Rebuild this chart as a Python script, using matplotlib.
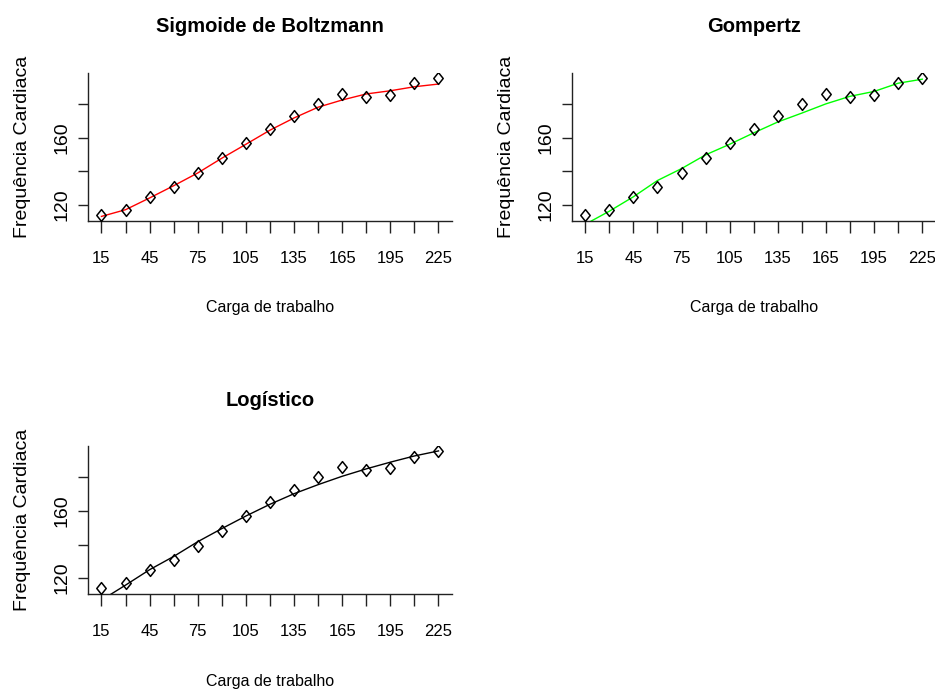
import matplotlib
matplotlib.use("Agg")
import matplotlib.pyplot as plt
from matplotlib.path import Path

# carga de trabalho (W) e frequencia cardiaca observada (bpm)
carga = [15, 30, 45, 60, 75, 90, 105, 120, 135, 150, 165, 180, 195, 210, 225]
fc_obs = [113.8, 116.9, 124.8, 130.8, 138.9, 148.1, 157.1, 165.5,
          172.8, 180.0, 186.3, 184.4, 185.4, 192.4, 195.5]

fc_boltzmann = [113.1, 117.1, 124.1, 131.4, 139.0, 147.8, 156.1, 164.5,
                171.8, 178.2, 182.5, 186.1, 188.0, 190.4, 192.0]
fc_gompertz = [108.4, 116.2, 124.8, 134.5, 141.6, 149.8, 156.1, 162.9,
               169.4, 174.7, 180.2, 184.7, 187.6, 192.5, 194.9]
fc_logistico = [106.9, 115.8, 125.0, 132.9, 141.7, 149.5, 157.0, 164.0,
                170.3, 175.7, 180.7, 185.1, 189.1, 192.8, 195.8]

xticks = carga
xlabels = [str(v) if i % 2 == 0 else "" for i, v in enumerate(carga)]
yticks = [120, 140, 160, 180]
ylabels = ["120", "", "160", ""]

FONTE = ["Liberation Sans", "DejaVu Sans"]

# losango aberto um pouco estreito (pch = 5 do R)
diamante = Path([(0, 1), (0.8, 0), (0, -1), (-0.8, 0), (0, 1)],
                [Path.MOVETO, Path.LINETO, Path.LINETO, Path.LINETO, Path.CLOSEPOLY])


def painel(fig, rect, titulo, ajuste, cor):
    ax = fig.add_axes(rect)
    ax.plot(carga, ajuste, color=cor, lw=1.0, zorder=2)
    ax.plot(carga, fc_obs, linestyle="none", marker=diamante, markersize=8.5,
            markerfacecolor="none", markeredgecolor="black", markeredgewidth=1.1,
            zorder=3)

    # limites no estilo do R (4% de folga)
    dx = (max(carga) - min(carga)) * 0.04
    dy = (max(fc_obs) - min(fc_obs)) * 0.04
    ax.set_xlim(min(carga) - dx, max(carga) + dx)
    ax.set_ylim(min(fc_obs) - dy, max(fc_obs) + dy)

    ax.spines["top"].set_visible(False)
    ax.spines["right"].set_visible(False)
    for s in ("left", "bottom"):
        ax.spines[s].set_linewidth(1.0)
        ax.spines[s].set_color("#222222")

    ax.set_xticks(xticks, labels=xlabels, fontfamily=FONTE, fontsize=12)
    ax.set_yticks(yticks, labels=ylabels, fontfamily=FONTE, fontsize=14)
    ax.tick_params(axis="x", length=8.5, width=1.0, pad=13, color="#222222")
    ax.tick_params(axis="y", length=7.5, width=1.0, pad=5, color="#222222",
                   labelrotation=90)
    for lb in ax.get_yticklabels():
        lb.set_verticalalignment("center")

    ax.set_title(titulo, fontfamily=FONTE, fontweight="bold", fontsize=14.5, pad=29)
    ax.set_xlabel("Carga de trabalho", fontfamily=FONTE, fontsize=11.5, labelpad=25)
    ax.set_ylabel("Frequência Cardiaca", fontfamily=FONTE, fontsize=14, labelpad=16)
    return ax


def main():
    fig = plt.figure(figsize=(9.35, 6.93), dpi=100)
    painel(fig, [0.0941, 0.6815, 0.3893, 0.2136], "Sigmoide de Boltzmann", fc_boltzmann, "#FF0000")
    painel(fig, [0.6115, 0.6815, 0.3893, 0.2136], "Gompertz", fc_gompertz, "#00FF00")
    painel(fig, [0.0941, 0.1429, 0.3893, 0.2136], "Logístico", fc_logistico, "black")
    fig.savefig("out.png", dpi=100)


if __name__ == "__main__":
    main()
